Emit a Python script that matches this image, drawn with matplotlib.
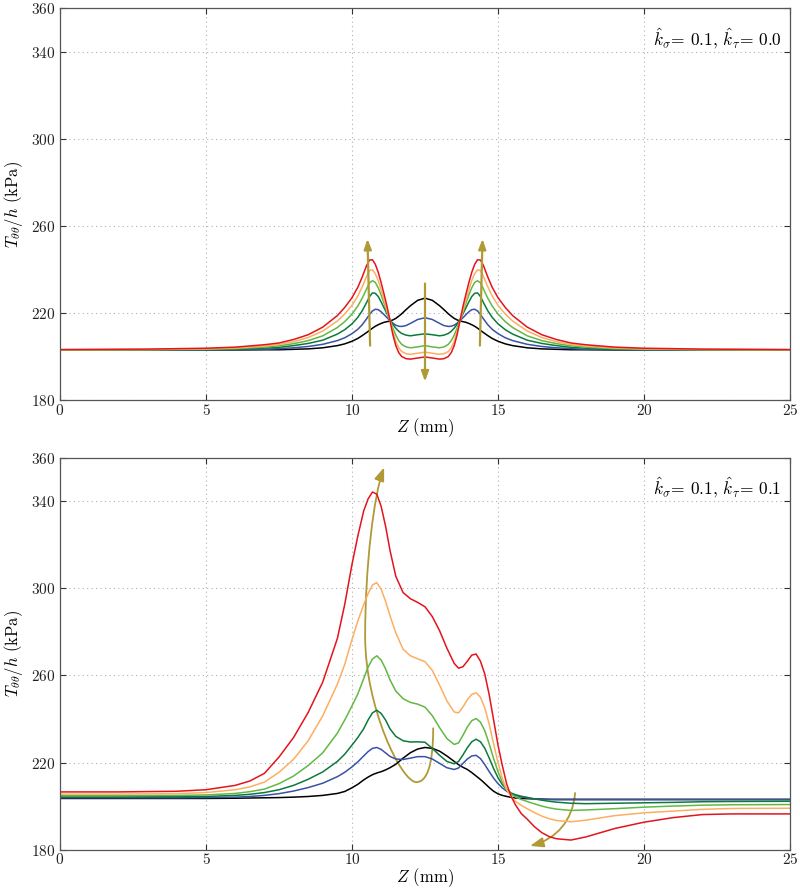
import matplotlib
matplotlib.use('Agg')
import matplotlib.pyplot as plt
from matplotlib.path import Path
from matplotlib.patches import FancyArrowPatch

plt.rcParams['font.family'] = 'serif'
plt.rcParams['font.serif'] = ['cmr10', 'DejaVu Serif']
plt.rcParams['mathtext.fontset'] = 'cm'
plt.rcParams['axes.formatter.use_mathtext'] = True

# ---- top panel: k_sigma = 0.1, k_tau = 0.0 ----
z_top = [0, 3, 5, 6, 7, 7.5, 8, 8.5, 9, 9.5, 9.75, 10, 10.2, 10.35, 10.5, 10.6, 10.7, 10.8,
         10.9, 11, 11.1, 11.2, 11.3, 11.4, 11.5, 11.6, 11.7, 11.85, 12, 12.25, 12.5,
         12.75, 13, 13.15, 13.3, 13.4, 13.5, 13.6, 13.7, 13.8, 13.9, 14, 14.1, 14.2, 14.3,
         14.4, 14.5, 14.65, 14.8, 15, 15.25, 15.5, 16, 16.5, 17, 17.5, 18, 19, 20, 22, 25]

top_black = [203, 203, 203, 203, 203.1, 203.1, 203.3, 203.5, 204, 205,
             205.8, 207, 208.3, 209.6, 211, 212, 213, 213.9, 214.6, 215.2,
             215.7, 216, 216.3, 216.8, 217.5, 218.5, 219.6, 221.5, 223.3, 225.8, 226.8,
             225.8, 223.3, 221.5, 219.6, 218.5, 217.5, 216.8, 216.3, 216, 215.7,
             215.2, 214.6, 213.9, 213, 212, 211, 209.6, 208.3, 207, 205.8,
             205, 204, 203.5, 203.3, 203.1, 203.1, 203, 203, 203, 203]
top_blue = [203, 203, 203, 203.1, 203.3, 203.6, 204, 204.6, 205.6, 207.3,
            208.6, 210.5, 212.5, 214.6, 217.3, 219.3, 220.9, 221.7, 221.5, 220.5,
            219.2, 217.8, 216.5, 215.3, 214.4, 213.9, 213.8, 214.2, 215.2, 217, 217.8,
            217, 215.2, 214.2, 213.8, 213.9, 214.4, 215.3, 216.5, 217.8, 219.2,
            220.5, 221.5, 221.7, 220.9, 219.3, 217.3, 214.6, 212.5, 210.5, 208.6,
            207.3, 205.6, 204.6, 204, 203.6, 203.3, 203.1, 203, 203, 203]
top_dgreen = [203, 203, 203.1, 203.3, 203.8, 204.2, 205, 206, 207.5, 210.3,
              212.3, 215, 218, 221, 224.8, 227.5, 229.2, 229, 227.5, 225,
              222.3, 219.6, 217, 214.8, 213, 211.6, 210.6, 209.8, 209.5, 210, 210.4,
              210, 209.5, 209.8, 210.6, 211.6, 213, 214.8, 217, 219.6, 222.3,
              225, 227.5, 229, 229.2, 227.5, 224.8, 221, 218, 215, 212.3,
              210.3, 207.5, 206, 205, 204.2, 203.8, 203.3, 203.1, 203, 203]
top_lgreen = [203, 203.1, 203.3, 203.6, 204.3, 204.9, 205.9, 207.3, 209.5, 213.3,
              216, 219.5, 223.2, 226.8, 231, 233.8, 234.8, 234, 231.5, 228.2,
              224.4, 220.5, 216.8, 213, 209.8, 207.3, 205.6, 204.4, 204, 204.4, 205,
              204.4, 204, 204.4, 205.6, 207.3, 209.8, 213, 216.8, 220.5, 224.4,
              228.2, 231.5, 234, 234.8, 233.8, 231, 226.8, 223.2, 219.5, 216,
              213.3, 209.5, 207.3, 205.9, 204.9, 204.3, 203.6, 203.3, 203.1, 203]
top_orange = [203.1, 203.2, 203.5, 203.9, 204.8, 205.5, 206.8, 208.7, 211.7, 216.3,
              219.5, 223.5, 227.8, 232, 236.8, 239.5, 239.8, 238, 234.8, 230.5,
              225.8, 221, 216.5, 211.5, 207, 204, 202.3, 201.3, 201, 201.5, 202,
              201.5, 201, 201.3, 202.3, 204, 207, 211.5, 216.5, 221, 225.8,
              230.5, 234.8, 238, 239.8, 239.5, 236.8, 232, 227.8, 223.5, 219.5,
              216.3, 211.7, 208.7, 206.8, 205.5, 204.8, 203.9, 203.5, 203.2, 203.1]
top_red = [203.2, 203.4, 203.8, 204.3, 205.4, 206.2, 207.8, 210, 213.5, 218.8,
           222.5, 227, 231.8, 236.5, 241.8, 244.3, 244.4, 242.3, 238.6, 233.8,
           228.5, 223, 216.5, 210, 205, 201.8, 200, 199, 198.8, 199.3, 199.8,
           199.3, 198.8, 199, 200, 201.8, 205, 210, 216.5, 223, 228.5,
           233.8, 238.6, 242.3, 244.4, 244.3, 241.8, 236.5, 231.8, 227, 222.5,
           218.8, 213.5, 210, 207.8, 206.2, 205.4, 204.3, 203.8, 203.4, 203.2]

# ---- bottom panel: k_sigma = 0.1, k_tau = 0.1 ----
z_bot = [0, 2, 4, 5, 6, 6.5, 7, 7.5, 8, 8.5, 9, 9.5, 9.75, 10, 10.2,
         10.4, 10.55, 10.7, 10.85, 11, 11.15, 11.3, 11.5, 11.75, 12,
         12.25, 12.5, 12.75, 13, 13.25, 13.5, 13.65, 13.8, 13.95, 14.1,
         14.25, 14.4, 14.55, 14.7, 14.85, 15, 15.15, 15.3, 15.45, 15.6,
         15.8, 16, 16.25, 16.5, 16.75, 17, 17.5, 18, 19, 20, 21, 22, 23, 25]

bot_red = [206.5, 206.5, 206.8, 207.5, 209.5, 211.5, 215, 222.5, 231.5, 243,
           257, 277, 292.5, 311, 324, 335.5, 341, 344.2, 343.2, 337.5,
           328.5, 317.5, 305.5, 298, 295.2, 293.5, 291.5, 287, 280.5, 272.5,
           265.5, 263.3, 264, 266.5, 269.3, 269.8, 266.5, 260.5, 251, 239.5,
           228, 218.5, 210, 204.5, 200.5, 196.5, 194, 190.5, 187.8, 186,
           185, 184.4, 185.8, 189.7, 192.6, 194.7, 196.1, 196.4, 196.4]
bot_orange = [205.5, 205.5, 205.7, 206.2, 207.5, 208.8, 211, 215.5, 221.5, 230,
              241.5, 256, 265, 276.5, 285, 292.5, 297.5, 301.5, 302.6, 299.5,
              294, 287.5, 279.5, 272, 269, 267.6, 266.3, 262.3, 255.5, 248.3,
              243.2, 242.8, 245.5, 248.8, 251.3, 252, 250, 245, 237.5, 228.5,
              220, 212.5, 207.5, 204.3, 202.2, 200.3, 198.8, 197, 195.4, 194.2,
              193.4, 192.8, 193.5, 195.6, 196.9, 197.7, 198.5, 198.9, 199]
bot_lgreen = [204.8, 204.8, 204.9, 205.1, 205.8, 206.6, 207.8, 210.3, 213.8, 218.6,
              224.5, 233.5, 239.5, 246, 251.5, 258.5, 263.8, 267.5, 269, 267,
              263, 258, 252.8, 249.3, 247.6, 246.8, 245.4, 241.5, 236, 231,
              228.3, 229, 232.5, 236.3, 239.2, 240.2, 238.5, 234.5, 228.5, 221.8,
              215.8, 210.8, 207.5, 205.5, 204.2, 203, 202.1, 201, 200, 199.2,
              198.6, 198, 198.2, 198.8, 199.5, 200, 200.4, 200.6, 200.7]
bot_dgreen = [204.2, 204.2, 204.3, 204.4, 204.9, 205.4, 206.2, 207.5, 209.5, 212.3,
              215.7, 220.5, 223.8, 228, 231.5, 235.5, 239.5, 242.8, 244, 242.5,
              239.5, 235.5, 232, 230, 229.4, 229.5, 229.3, 226.5, 223.3, 220.5,
              219.4, 220.5, 223.5, 226.8, 229.5, 230.7, 229.5, 226.5, 222, 217.2,
              213, 209.8, 207.5, 206, 205.2, 204.5, 204, 203.3, 202.7, 202.2,
              201.8, 201.3, 201.1, 201.3, 201.5, 201.7, 202, 202.1, 202.2]
bot_blue = [203.8, 203.8, 203.8, 203.9, 204.1, 204.4, 204.9, 205.7, 206.9, 208.5,
            210.5, 213.5, 215.5, 218, 220.3, 223, 225, 226.5, 226.9, 226,
            224.4, 222.8, 221.6, 221.4, 222, 222.7, 222.7, 221.6, 219.6, 217.6,
            216.8, 217.5, 219.6, 221.6, 223, 223.3, 221.8, 219, 215.8, 212.8,
            210.3, 208.3, 206.8, 205.7, 204.9, 204.2, 203.7, 203.3, 203.1, 203,
            202.9, 202.9, 202.9, 202.9, 202.9, 202.9, 202.9, 202.9, 202.9]
bot_black = [203.5, 203.5, 203.5, 203.5, 203.6, 203.7, 203.8, 203.9, 204.1, 204.4,
             204.9, 205.8, 206.7, 208.4, 210, 212, 213.3, 214.4, 215.2, 215.8,
             216.6, 217.6, 219.2, 222, 224.5, 226.2, 226.9, 226.5, 225.2, 223,
             220.5, 219, 217.8, 216.8, 215.4, 213.8, 212.2, 210.4, 208.5, 206.8,
             205.6, 204.9, 204.4, 204, 203.7, 203.5, 203.4, 203.3, 203.2, 203.1,
             203.1, 203.1, 203.1, 203.1, 203.1, 203.1, 203.1, 203.1, 203.1]

colors = ['#000000', '#3953a4', '#0c7a3c', '#62b843', '#fdae61', '#e3141c']
olive = '#b09a35'

yticks = [180, 220, 260, 300, 340, 360]
xticks = [0, 5, 10, 15, 20, 25]


def style_axes(ax, label):
    ax.set_xlim(0, 25)
    ax.set_ylim(180, 360)
    ax.set_xticks(xticks)
    ax.set_yticks(yticks)
    ax.grid(True, color='#b0b0b0', linestyle=(0, (1, 3)), linewidth=0.8)
    ax.tick_params(direction='in', top=True, right=True, length=4, width=0.8,
                   labelsize=11, colors='#333333', labelcolor='#222222')
    ax.tick_params(axis='x', pad=2)
    for s in ax.spines.values():
        s.set_color('#555555')
        s.set_linewidth(0.9)
    ax.set_xlabel(r'$Z$ (mm)', fontsize=12, labelpad=-1)
    ax.set_ylabel(r'$T_{\theta\theta}/h$ (kPa)', fontsize=12, labelpad=4)
    ax.text(0.988, 0.955, label, transform=ax.transAxes, ha='right', va='top', fontsize=12.5)


fig = plt.figure(figsize=(8, 8.92), dpi=100)
ax1 = fig.add_axes([0.075, 0.5515, 0.9125, 0.4395])
ax2 = fig.add_axes([0.075, 0.0475, 0.9125, 0.4395])

for ys, c in zip([top_black, top_blue, top_dgreen, top_lgreen, top_orange, top_red], colors):
    ax1.plot(z_top, ys, color=c, lw=1.1)
for ys, c in zip([bot_black, bot_blue, bot_dgreen, bot_lgreen, bot_orange, bot_red], colors):
    ax2.plot(z_bot, ys, color=c, lw=1.1)

style_axes(ax1, r'$\hat{k}_{\sigma}$= 0.1, $\hat{k}_{\tau}$= 0.0')
style_axes(ax2, r'$\hat{k}_{\sigma}$= 0.1, $\hat{k}_{\tau}$= 0.1')

# trend arrows, top panel
arrow_props = dict(arrowstyle='-|>,head_length=0.6,head_width=0.22', color=olive, lw=1.6,
                   shrinkA=0, shrinkB=0)
ax1.annotate('', xy=(10.53, 254), xytext=(10.62, 205), arrowprops=arrow_props)
ax1.annotate('', xy=(12.5, 188.5), xytext=(12.5, 233.5), arrowprops=arrow_props)
ax1.annotate('', xy=(14.47, 254), xytext=(14.38, 205), arrowprops=arrow_props)

# curved trend arrows, bottom panel
arrow1 = [(12.78, 235.7), (12.78, 218), (12.55, 211), (12.2, 211),
          (11.7, 211), (10.45, 245), (10.45, 278),
          (10.45, 310), (10.75, 343), (11.1, 355.5)]
arrow2 = [(17.64, 206), (17.55, 193), (17.0, 185), (16.1, 181.7)]
for pts in [arrow1, arrow2]:
    codes = [Path.MOVETO] + [Path.CURVE4] * (len(pts) - 1)
    p = FancyArrowPatch(path=Path(pts, codes),
                        arrowstyle='-|>,head_length=8,head_width=3',
                        color=olive, lw=1.3)
    ax2.add_patch(p)

fig.savefig('out.png', dpi=100)
plt.close(fig)
